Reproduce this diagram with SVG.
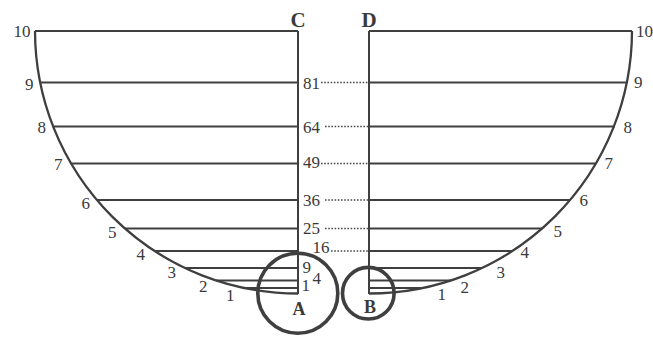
<svg xmlns="http://www.w3.org/2000/svg" width="653" height="338" viewBox="0 0 653 338">
<style>
  .ln{stroke:#3f3f3f;stroke-width:2;fill:none}
  .arc{stroke:#3f3f3f;stroke-width:2.3;fill:none}
  .dot{stroke:#4a4a4a;stroke-width:1.6;stroke-dasharray:1.6 1.6;fill:none}
  .ring{stroke:#3f3f3f;stroke-width:3.6;fill:none}
  text{font-family:"Liberation Serif","Times New Roman",serif;font-size:17px;fill:#3a3a3a}
  .e{text-anchor:end}
  .m{text-anchor:middle}
  .b{font-weight:bold}
</style>
<rect width="653" height="338" fill="#ffffff"/>
<g id="bowl-left">
  <path class="arc" d="M35 31 A263 263 0 0 0 298 293.5"/>
  <path class="ln" d="M35 31 H298 M298 31 V294"/>
  <path class="ln" d="M40.5 82.5 H298 M53 126.5 H298 M71 163.5 H298 M97 200 H298 M125 228.5 H298 M155 251 H298 M185 268 H298 M216 280.5 H298 M245 288 H298"/>
</g>
<g id="bowl-right">
  <path class="arc" d="M369 293.5 A263 263 0 0 0 632 31"/>
  <path class="ln" d="M369 31 H632 M369 31 V294"/>
  <path class="ln" d="M369 82.5 H627.5 M369 126.5 H615 M369 163.5 H596 M369 200 H570 M369 228.5 H542 M369 251 H512 M369 268 H482 M369 280.5 H451 M369 288 H423"/>
</g>
<g id="circle-A">
  <circle class="ring" cx="297.8" cy="293.3" r="40"/>
  <text class="m b" x="299" y="315" style="font-size:18px">A</text>
</g>
<g id="circle-B">
  <circle class="ring" cx="368.3" cy="293.2" r="25.8"/>
  <text class="m b" x="370" y="313" style="font-size:18px">B</text>
</g>
<g id="label-C"><text class="m b" x="298" y="26.5" style="font-size:21px">C</text></g>
<g id="label-D"><text class="m b" x="369" y="26.5" style="font-size:21px">D</text></g>
<g id="left-scale">
  <text class="e" x="30.5" y="37">10</text>
  <text class="e" x="33.5" y="90">9</text>
  <text class="e" x="46" y="133">8</text>
  <text class="e" x="62.5" y="170">7</text>
  <text class="e" x="90" y="209">6</text>
  <text class="e" x="116.5" y="237.5">5</text>
  <text class="e" x="145" y="260">4</text>
  <text class="e" x="176" y="278">3</text>
  <text class="e" x="207.5" y="291.5">2</text>
  <text class="e" x="234.5" y="300.5">1</text>
</g>
<g id="right-scale">
  <text x="636" y="37">10</text>
  <text x="634" y="88">9</text>
  <text x="623.5" y="133">8</text>
  <text x="604.5" y="169">7</text>
  <text x="579.5" y="206">6</text>
  <text x="553.5" y="237">5</text>
  <text x="520.5" y="258">4</text>
  <text x="496.5" y="278">3</text>
  <text x="460.5" y="293">2</text>
  <text x="437.5" y="300">1</text>
</g>
<g id="squares">
  <text x="303" y="89">81</text>
  <text x="303" y="132.5">64</text>
  <text x="303" y="168">49</text>
  <text x="303" y="206">36</text>
  <text x="303" y="234">25</text>
  <text x="312.5" y="253">16</text>
  <text x="302.5" y="272.5">9</text>
  <text x="312.5" y="284">4</text>
  <text x="301.5" y="291">1</text>
</g>
<g id="connectors">
  <path class="dot" d="M321 82.5 H368 M325 126.5 H368 M321 163.5 H368 M325 200 H368 M325 228.5 H368 M331 251 H368"/>
</g>
</svg>
